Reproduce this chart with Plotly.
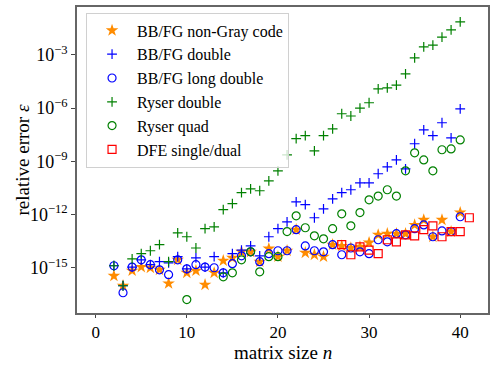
import plotly.graph_objects as go

# ---------------- DATA ----------------
n_bbfg = list(range(2, 41))
n_ryser_quad = [10] + list(range(14, 41))
n_dfe = list(range(27, 42))

bbfg_nongray = [3.5e-16, 9.7e-17, 6.8e-16, 1.1e-15, 1.0e-15, 7.7e-16, 1.3e-16, 2.8e-15,
                5.2e-16, 6.8e-16, 1.1e-16, 5.2e-16, 2.5e-15, 3.6e-15, 7.9e-15, 7.9e-15,
                2.2e-15, 1.2e-14, 4.2e-15, 9.1e-15, 1.4e-13, 7.0e-15, 5.4e-15, 4.2e-15,
                2.0e-14, 1.7e-14, 1.3e-14, 1.5e-14, 2.6e-14, 7.2e-14, 8.3e-14, 8.3e-14,
                8.3e-14, 2.6e-13, 5.0e-13, 5.6e-14, 5.0e-13, 1.1e-13, 1.3e-12]

bbfg_double = [1.3e-15, 9.7e-17, 1.1e-15, 2.8e-15, 1.5e-15, 2.2e-15, 1.9e-15, 4.2e-15,
               8.7e-16, 3.6e-15, 1.1e-15, 4.2e-15, 5.2e-16, 6.2e-15, 1.0e-14, 1.7e-14,
               4.7e-15, 5.6e-14, 1.6e-13, 3.9e-13, 5.2e-12, 3.6e-12, 6.6e-13, 2.1e-12,
               7.7e-12, 1.7e-11, 2.5e-11, 6.1e-11, 6.1e-11, 2.0e-10, 4.9e-10, 1.2e-9,
               3.8e-10, 9.8e-9, 5.9e-8, 2.8e-8, 1.5e-7, 2.1e-8, 9.1e-7]

bbfg_long = [1.3e-15, 3.9e-17, 1.1e-15, 2.8e-15, 1.5e-15, 7.7e-16, 4.1e-16, 2.8e-15,
             8.7e-16, 1.5e-15, 1.1e-15, 1.0e-15, 5.2e-16, 1.7e-15, 4.7e-15, 7.9e-15,
             2.2e-15, 6.2e-15, 9.1e-15, 9.1e-15, 1.4e-13, 1.7e-14, 9.1e-15, 7.9e-15,
             2.0e-14, 5.4e-15, 1.3e-14, 7.9e-15, 6.2e-15, 3.8e-14, 2.9e-14, 8.3e-14,
             7.2e-14, 1.6e-13, 2.6e-13, 5.6e-14, 1.2e-13, 1.1e-13, 7.5e-13]

ryser_double = [1.3e-15, 9.7e-17, 3.2e-15, 6.2e-15, 9.1e-15, 2.0e-14, 2.2e-15, 9.3e-14,
                5.6e-14, 1.3e-14, 1.6e-13, 2.0e-13, 1.9e-12, 4.1e-12, 1.7e-11, 2.8e-11,
                2.2e-11, 8.0e-11, 2.9e-10, 2.3e-9, 1.9e-8, 2.8e-8, 3.9e-9, 2.8e-8,
                6.8e-8, 4.8e-7, 3.6e-7, 1.0e-6, 2.0e-6, 1.2e-5, 1.4e-5, 2.0e-5,
                8.5e-5, 6.8e-4, 2.8e-3, 3.6e-3, 1.0e-2, 2.6e-2, 7.2e-2]

ryser_quad = [1.6e-17, 3.1e-16, 5.2e-16, 2.8e-15, 7.9e-15, 5.9e-16, 4.2e-15, 4.2e-15,
              1.1e-13, 8.5e-13, 1.8e-13, 6.3e-14, 4.3e-14, 1.6e-13, 1.1e-12, 2.3e-13,
              1.3e-12, 6.8e-12, 1.1e-11, 2.5e-11, 1.1e-11, 2.9e-10, 3.0e-9, 1.2e-9,
              2.9e-10, 4.5e-9, 5.0e-9, 1.6e-8]

dfe = [2.0e-14, 5.4e-15, 1.5e-14, 1.0e-14, 6.2e-15, 3.8e-14, 2.9e-14, 7.2e-14,
       6.3e-14, 1.4e-13, 2.3e-13, 5.6e-14, 1.1e-13, 1.1e-13, 6.6e-13]

FONT = "Liberation Serif, serif"

fig = go.Figure()

fig.add_trace(go.Scatter(x=n_bbfg, y=bbfg_nongray, mode="markers", name="BB/FG non-Gray code",
                         marker=dict(symbol="star", size=9.5, color="#ff8c00", line=dict(width=0))))
fig.add_trace(go.Scatter(x=n_bbfg, y=bbfg_double, mode="markers", name="BB/FG double",
                         marker=dict(symbol="cross-thin-open", size=7, color="blue", line=dict(width=1.2, color="blue"))))
fig.add_trace(go.Scatter(x=n_bbfg, y=bbfg_long, mode="markers", name="BB/FG long double",
                         marker=dict(symbol="circle-open", size=8, color="blue", line=dict(width=1.2, color="blue"))))
fig.add_trace(go.Scatter(x=n_bbfg, y=ryser_double, mode="markers", name="Ryser double",
                         marker=dict(symbol="cross-thin-open", size=7, color="green", line=dict(width=1.2, color="green"))))
fig.add_trace(go.Scatter(x=n_ryser_quad, y=ryser_quad, mode="markers", name="Ryser quad",
                         marker=dict(symbol="circle-open", size=8, color="green", line=dict(width=1.2, color="green"))))
fig.add_trace(go.Scatter(x=n_dfe, y=dfe, mode="markers", name="DFE single/dual",
                         marker=dict(symbol="square-open", size=8, color="red", line=dict(width=1.2, color="red"))))

exps = [-15, -12, -9, -6, -3]

fig.update_layout(
    width=498, height=368,
    margin=dict(l=77, r=10, t=7, b=55),
    plot_bgcolor="white", paper_bgcolor="white",
    font=dict(family=FONT, size=17, color="black"),
    legend=dict(x=0.022, y=0.982, xanchor="left", yanchor="top", itemwidth=40,
                bgcolor="rgba(255,255,255,0.8)", bordercolor="#d0d0d0", borderwidth=1,
                font=dict(family=FONT, size=16)),
    xaxis=dict(range=[-2.05, 43.05], tickvals=[0, 10, 20, 30, 40], ticks="outside",
               ticklen=3, tickcolor="#444", showgrid=False, zeroline=False, automargin=False,
               showline=True, linecolor="#666", linewidth=1.5, mirror=True,
               tickfont=dict(family=FONT, size=17)),
    yaxis=dict(type="log", range=[-17.55, -0.3], tickvals=[10.0 ** e for e in exps],
               ticktext=["10<sup>−%d</sup>" % -e for e in exps], ticks="outside",
               ticklen=4, tickcolor="#444", showgrid=False, zeroline=False, automargin=False,
               showline=True, linecolor="#666", linewidth=1.5, mirror=True,
               tickfont=dict(family=FONT, size=18)),
    annotations=[
        dict(text="matrix size <i>n</i>", x=0.5, xref="paper", y=-0.128, yref="paper",
             xanchor="center", yanchor="middle", showarrow=False,
             font=dict(family=FONT, size=19)),
        dict(text="relative error <i>ε</i>", x=-0.135, xref="paper", y=0.5, yref="paper",
             xanchor="center", yanchor="middle", textangle=-90, showarrow=False,
             font=dict(family=FONT, size=19)),
    ],
)

fig.write_html("out.html", config={"displayModeBar": False},
               post_script="document.body.style.margin = '0';")
